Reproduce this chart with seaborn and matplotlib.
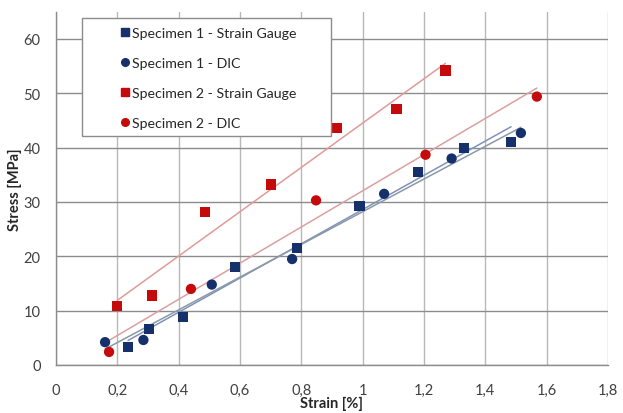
import pandas as pd
import matplotlib.pyplot as plt
import seaborn as sns
from matplotlib.lines import Line2D
from matplotlib.patches import Rectangle

# =========================================================
# DADOS
# =========================================================

s1_sg_strain = [0.235, 0.303, 0.415, 0.583, 0.785, 0.99, 1.18, 1.33, 1.484]
s1_sg_stress = [3.3, 6.6, 8.8, 18.0, 21.5, 29.3, 35.5, 40.0, 41.1]

s1_dic_strain = [0.16, 0.285, 0.508, 0.77, 1.07, 1.29, 1.516]
s1_dic_stress = [4.2, 4.6, 14.8, 19.5, 31.5, 38.0, 42.7]

s2_sg_strain = [0.20, 0.312, 0.486, 0.70, 0.915, 1.11, 1.27]
s2_sg_stress = [10.8, 12.8, 28.1, 33.2, 43.6, 47.1, 54.2]

s2_dic_strain = [0.173, 0.44, 0.848, 1.205, 1.568]
s2_dic_stress = [2.4, 14.0, 30.3, 38.7, 49.4]

series_names = ["Specimen 1 - Strain Gauge", "Specimen 1 - DIC",
                "Specimen 2 - Strain Gauge", "Specimen 2 - DIC"]

x_ticks = [0, 0.2, 0.4, 0.6, 0.8, 1.0, 1.2, 1.4, 1.6, 1.8]
x_tick_labels = ["0", "0,2", "0,4", "0,6", "0,8", "1", "1,2", "1,4", "1,6", "1,8"]
y_ticks = [0, 10, 20, 30, 40, 50, 60]

# =========================================================
# ESTILO
# =========================================================

sns.set_style("white")
plt.rcParams['font.family'] = ['Lato', 'DejaVu Sans']

NAVY = "#15306b"
RED = "#c40a0a"
marker_colors = {series_names[0]: NAVY, series_names[1]: NAVY,
                 series_names[2]: RED, series_names[3]: RED}
marker_shapes = {series_names[0]: "s", series_names[1]: "o",
                 series_names[2]: "s", series_names[3]: "o"}
line_colors = {series_names[0]: "#7f93b8", series_names[1]: "#8a98a8",
               series_names[2]: "#e09a9a", series_names[3]: "#dba0a0"}

frames = []
for name, xs, ys in zip(series_names,
                        [s1_sg_strain, s1_dic_strain, s2_sg_strain, s2_dic_strain],
                        [s1_sg_stress, s1_dic_stress, s2_sg_stress, s2_dic_stress]):
    frames.append(pd.DataFrame({"strain": xs, "stress": ys, "serie": name}))
df = pd.concat(frames, ignore_index=True)

fig = plt.figure(figsize=(6.23, 4.14), dpi=100)
ax = fig.add_axes([0.0899, 0.116, 0.886, 0.853])

# Linhas de tendência (regressão linear)
for name in series_names:
    sub = df[df["serie"] == name]
    sns.regplot(data=sub, x="strain", y="stress", ax=ax, scatter=False,
                ci=None, truncate=True,
                line_kws={"color": line_colors[name], "lw": 1.1, "zorder": 2})

sns.scatterplot(data=df, x="strain", y="stress", hue="serie", style="serie",
                palette=marker_colors, markers=marker_shapes, s=55,
                edgecolor="none", ax=ax, legend=False, zorder=3)

ax.set_xlim(0, 1.8)
ax.set_ylim(0, 65)
ax.set_xticks(x_ticks)
ax.set_xticklabels(x_tick_labels)
ax.set_yticks(y_ticks)

ax.xaxis.grid(True, color="#b8b8b8", lw=1.0)
ax.yaxis.grid(True, color="#8c8c8c", lw=1.0)
ax.set_axisbelow(True)
for side in ["top", "right"]:
    ax.spines[side].set_visible(False)
for side in ["left", "bottom"]:
    ax.spines[side].set_color("#8c8c8c")
    ax.spines[side].set_linewidth(1.0)

ax.tick_params(axis="both", which="both", length=5, width=1.0, color="#8c8c8c",
               labelsize=10.5, labelcolor="#404040", pad=8, direction="out")
ax.tick_params(axis="y", pad=6)

ax.set_xlabel("Strain [%]", fontsize=10.5, fontweight="bold", color="#262626")
ax.set_ylabel("Stress [MPa]", fontsize=10.5, fontweight="bold", color="#262626")
ax.xaxis.set_label_coords(0.5, -0.088)
ax.yaxis.set_label_coords(-0.062, 0.5)

# Caixa da legenda (estilo Excel, com folga à direita)
ax.add_patch(Rectangle((0.047, 0.649), 0.451, 0.334, transform=ax.transAxes,
                       facecolor="white", edgecolor="#8c8c8c", lw=1.0, zorder=4))

handles = [Line2D([], [], ls="none", marker=marker_shapes[n], color=marker_colors[n],
                  markersize=5.5) for n in series_names]
leg = ax.legend(handles, series_names, loc="upper left",
                bbox_to_anchor=(0.114, 0.958), frameon=False,
                fontsize=10.2, labelspacing=1.27, handletextpad=0.15,
                handlelength=0.8, borderpad=0.0, borderaxespad=0)
leg.set_zorder(5)
for t in leg.get_texts():
    t.set_color("#262626")

fig.savefig("out.png", dpi=100)
